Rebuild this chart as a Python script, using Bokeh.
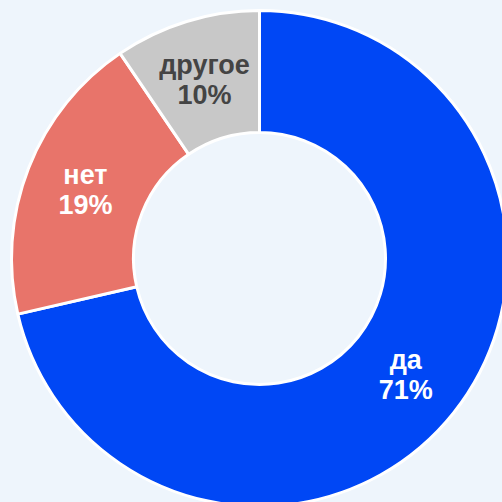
import math
from bokeh.plotting import figure
from bokeh.models import ColumnDataSource, Range1d, GlobalInlineStyleSheet
from bokeh.core.properties import value
from bokeh.embed import file_html
from bokeh.resources import INLINE

categories = ["да", "нет", "другое"]
values = [71.4, 19.1, 9.5]
colors = ["#0047f5", "#e8746a", "#c8c8c8"]
text_colors = ["#ffffff", "#ffffff", "#444444"]

W = H = 502
cx, cy = 259, 244
r_in, r_out = 126, 248

total = sum(values)
starts, ends, lx, ly, pct = [], [], [], [], []
cum = 0.0
for v in values:
    a0 = math.pi / 2 - 2 * math.pi * cum / total
    cum += v
    a1 = math.pi / 2 - 2 * math.pi * cum / total
    starts.append(a0)
    ends.append(a1)
    mid = (a0 + a1) / 2
    rm = (r_in + r_out) / 2
    lx.append(cx + rm * math.cos(mid))
    ly.append(cy + rm * math.sin(mid))
    pct.append(f"{round(100 * v / total)}%")

src = ColumnDataSource(dict(cat=categories, start=starts, end=ends, color=colors,
                            tcolor=text_colors, lx=lx, ly=ly, pct=pct))

bg = "#eef5fc"
p = figure(width=W, height=H, output_backend="svg", toolbar_location=None,
           x_range=Range1d(0, W), y_range=Range1d(0, H), min_border=0,
           background_fill_color=bg, border_fill_color=bg,
           stylesheets=[GlobalInlineStyleSheet(css="body{background:#eef5fc;margin:0;overflow:hidden;}")])
p.axis.visible = False
p.grid.visible = False
p.outline_line_color = None

p.annular_wedge(x=cx, y=cy, inner_radius=r_in, outer_radius=r_out,
                start_angle="start", end_angle="end", direction="clock",
                fill_color="color", line_color="white", line_width=3, source=src)

font = value("Liberation Sans")
p.text(x="lx", y="ly", text="cat", text_color="tcolor", text_font=font,
       text_font_size="27px", text_font_style="bold", text_align="center",
       text_baseline="middle", y_offset=-15, source=src)
p.text(x="lx", y="ly", text="pct", text_color="tcolor", text_font=font,
       text_font_size="27px", text_font_style="bold", text_align="center",
       text_baseline="middle", y_offset=15, source=src)

open("out.html", "w").write(file_html(p, INLINE))
